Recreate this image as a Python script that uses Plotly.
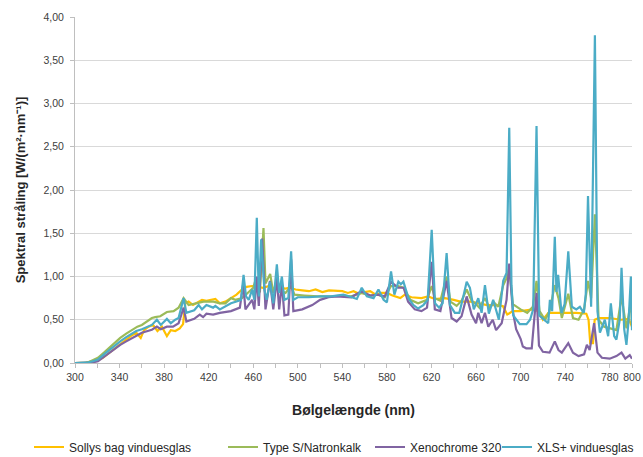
import plotly.graph_objects as go

# ---------------- data ----------------
wl_sollys = [300, 305, 310, 315, 320, 325, 330, 335, 340, 345, 350, 355, 359, 362, 366, 370, 374, 378,
             382.5, 386, 390, 394, 397, 399, 402, 406, 410, 414, 418, 422, 426, 430, 435, 440, 445, 450,
             454, 459, 465, 469, 474, 478, 483, 489, 493, 498, 504, 510, 516, 522, 528, 535, 540, 545,
             550, 555, 560, 565, 570, 575, 580, 585, 592, 596, 602, 611, 617, 623, 632, 640, 646, 655,
             663, 670, 677, 684, 688, 693, 700, 706, 711, 716, 720, 725, 732, 740, 750, 759, 761, 762.5,
             765, 766.5, 770, 780, 790, 797, 800]
val_sollys = [0, 0, 0.005, 0.02, 0.03, 0.06, 0.11, 0.17, 0.22, 0.27, 0.31, 0.35, 0.29, 0.38, 0.42, 0.44,
              0.37, 0.42, 0.31, 0.38, 0.37, 0.40, 0.45, 0.69, 0.71, 0.67, 0.70, 0.73, 0.72, 0.73, 0.74,
              0.69, 0.71, 0.75, 0.79, 0.85, 0.88, 0.89, 0.88, 0.87, 0.89, 0.85, 0.87, 0.86, 0.87, 0.85,
              0.84, 0.83, 0.85, 0.82, 0.84, 0.83, 0.83, 0.81, 0.83, 0.80, 0.82, 0.83, 0.79, 0.81, 0.81,
              0.78, 0.75, 0.79, 0.76, 0.75, 0.77, 0.74, 0.75, 0.73, 0.71, 0.71, 0.69, 0.67, 0.67, 0.66,
              0.56, 0.60, 0.60, 0.61, 0.62, 0.60, 0.50, 0.58, 0.58, 0.58, 0.58, 0.57, 0.50, 0.23, 0.23,
              0.50, 0.52, 0.52, 0.50, 0.51, 0.42]

wl_types = [300, 308, 312, 316, 320.6, 326, 331.7, 336, 340.6, 346, 351, 356, 360, 365, 369, 372, 376.5,
            382.5, 388.5, 393, 397.5, 402, 409.4, 415.4, 424.3, 430, 435, 440, 444, 450, 455, 460, 462,
            464, 466, 469.2, 471, 475.2, 478, 481, 484, 489, 494, 497, 506, 518, 530, 540, 548, 557, 565,
            572, 578, 583.7, 590, 595, 601, 608, 616, 620.2, 623, 628, 633.6, 637, 642.6, 647, 651.6,
            656, 660, 663, 668, 672, 676, 680, 684.4, 687.4, 689.8, 693, 700, 706, 711, 714.3, 717, 722,
            726, 730.7, 734, 737, 742.8, 747, 752, 757, 760.5, 763.3, 766.7, 770, 775, 780, 786, 790.6,
            795, 799, 800]
val_types = [0, 0, 0.01, 0.03, 0.06, 0.12, 0.19, 0.24, 0.29, 0.34, 0.385, 0.42, 0.44, 0.49, 0.52, 0.53,
             0.54, 0.59, 0.60, 0.64, 0.75, 0.67, 0.69, 0.71, 0.71, 0.69, 0.69, 0.75, 0.73, 0.75, 0.81,
             0.87, 0.96, 0.84, 0.82, 1.56, 0.92, 1.03, 0.81, 0.96, 0.84, 0.81, 0.89, 0.79, 0.78, 0.77,
             0.77, 0.78, 0.77, 0.81, 0.78, 0.79, 0.76, 0.89, 0.89, 0.87, 0.73, 0.69, 0.73, 0.89, 0.75,
             0.72, 1.00, 0.71, 0.66, 0.72, 0.85, 0.72, 0.68, 0.64, 0.75, 0.64, 0.70, 0.65, 0.90, 0.98,
             1.10, 0.68, 0.62, 0.58, 0.65, 0.95, 0.60, 0.50, 0.60, 0.90, 0.75, 0.52, 0.80, 0.52, 0.50,
             0.62, 0.95, 0.75, 1.72, 0.50, 0.42, 0.40, 0.38, 0.77, 0.40, 0.71, 0.46]

wl_xeno = [300, 310, 315, 320.6, 326, 331.7, 336, 340.6, 346, 351, 356, 360, 365, 369, 373.5, 377,
           382.5, 388, 393, 397.5, 400, 407, 412, 415, 418, 424, 430, 440, 448, 451, 453, 459, 461,
           463.2, 465, 468, 471, 475, 478, 481.2, 483.3, 485.7, 488, 491.5, 494, 496, 504, 513, 520,
           527.6, 535, 548, 557, 565, 572, 578, 583.7, 590, 595, 599, 605, 611, 616, 620.2, 623, 628,
           633.6, 638, 642.6, 647, 651.6, 656, 660, 662, 665, 668, 671, 675, 678, 683, 687.4, 689.8,
           693, 696, 700, 702, 705, 710, 714.3, 716.5, 720, 726, 730.7, 734, 737, 742.8, 747, 752, 757,
           759.5, 762, 766, 769, 773, 780, 786, 790.6, 794, 798, 800]
val_xeno = [0, 0, 0.005, 0.02, 0.07, 0.13, 0.17, 0.21, 0.25, 0.29, 0.32, 0.35, 0.37, 0.385, 0.42, 0.39,
            0.42, 0.42, 0.46, 0.64, 0.48, 0.51, 0.56, 0.53, 0.57, 0.56, 0.58, 0.60, 0.64, 0.92, 0.62,
            0.73, 0.62, 1.00, 0.66, 1.44, 0.62, 0.95, 0.62, 0.98, 0.62, 0.92, 0.55, 0.56, 1.20, 0.60,
            0.62, 0.67, 0.73, 0.76, 0.77, 0.76, 0.83, 0.78, 0.79, 0.77, 0.94, 0.87, 0.87, 0.71, 0.62,
            0.60, 0.64, 1.17, 0.62, 0.60, 0.95, 0.52, 0.48, 0.54, 0.77, 0.56, 0.46, 0.58, 0.46, 0.58,
            0.42, 0.50, 0.38, 0.46, 0.73, 1.15, 0.60, 0.39, 0.28, 0.19, 0.17, 0.17, 0.81, 0.20, 0.13,
            0.12, 0.25, 0.15, 0.12, 0.23, 0.12, 0.08, 0.10, 0.21, 0.15, 0.46, 0.12, 0.06, 0.05, 0.08,
            0.12, 0.05, 0.09, 0.05]

wl_xls = [300, 308, 312, 316, 320.6, 326, 331.7, 336, 340.6, 346, 351, 355, 360, 365, 369, 373.5, 377,
          382.5, 386, 390, 393, 397.5, 400, 407, 411, 414, 418, 424, 426, 430, 435, 440, 445, 449,
          451.3, 453.5, 456, 459, 461, 463.2, 465, 467.1, 470, 472, 475, 478, 481.2, 483.3, 485.7, 488,
          491.5, 494, 496, 500, 510, 520, 530, 541, 548.5, 553, 557.4, 562, 568, 572.4, 577, 580, 583.7,
          586.7, 590.3, 592.5, 594.8, 599.3, 603.8, 608, 612.7, 616.6, 620.2, 623.2, 626.8, 630, 633.6,
          636.6, 641, 645, 648.6, 651.6, 654.5, 658, 662, 665, 668, 671.5, 675.4, 680.5, 684.4, 687.4,
          689.8, 691.8, 693.4, 699.3, 705.3, 708.5, 711.3, 714.3, 716.7, 721.8, 724.8, 726.3, 728.3,
          730.7, 732.2, 733.7, 736.7, 739.5, 742.8, 746, 750, 753.2, 756.8, 758.5, 760.5, 763.3, 766.7,
          769, 771.2, 775.6, 778.6, 781, 784, 786, 789, 790.6, 793, 795, 797, 799, 800]
val_xls = [0, 0, 0.008, 0.02, 0.04, 0.10, 0.16, 0.21, 0.25, 0.30, 0.34, 0.37, 0.39, 0.42, 0.44, 0.50,
           0.44, 0.51, 0.46, 0.50, 0.52, 0.75, 0.58, 0.61, 0.67, 0.62, 0.67, 0.64, 0.66, 0.62, 0.66,
           0.69, 0.71, 0.73, 1.02, 0.77, 0.73, 0.85, 0.73, 1.68, 0.77, 1.43, 0.85, 0.73, 0.94, 0.69,
           1.14, 0.81, 1.00, 0.73, 0.75, 1.29, 0.73, 0.76, 0.76, 0.77, 0.77, 0.79, 0.76, 0.74, 0.87,
           0.77, 0.75, 0.85, 0.73, 0.70, 1.06, 0.79, 0.94, 0.91, 0.94, 0.75, 0.67, 0.63, 0.67, 0.73,
           1.54, 0.69, 0.64, 0.69, 1.27, 0.67, 0.58, 0.58, 0.77, 0.94, 0.87, 0.62, 0.75, 0.58, 0.90,
           0.57, 0.73, 0.50, 0.95, 1.04, 2.72, 0.90, 0.55, 0.45, 0.45, 0.50, 0.62, 2.74, 0.55, 0.50,
           0.46, 0.73, 0.60, 1.46, 0.82, 1.02, 0.58, 0.68, 1.29, 0.65, 0.62, 0.65, 0.58, 0.80, 1.93,
           0.65, 3.79, 0.60, 0.35, 0.50, 0.31, 0.69, 0.31, 0.27, 0.50, 1.10, 0.39, 0.21, 0.50, 1.00,
           0.38]

series_names = ["Sollys bag vinduesglas", "Type S/Natronkalk", "Xenochrome 320", "XLS+ vinduesglas"]
series_colors = ["#FFC000", "#9BBB59", "#8064A2", "#4BACC6"]

x_tickvals = [300, 340, 380, 420, 460, 500, 540, 580, 620, 660, 700, 740, 780, 800]
y_tickvals = [0, 0.5, 1.0, 1.5, 2.0, 2.5, 3.0, 3.5, 4.0]
y_ticktext = ["0,00", "0,50", "1,00", "1,50", "2,00", "2,50", "3,00", "3,50", "4,00"]

# ---------------- figure ----------------
W, H = 643, 457
legend_ids = ["legend", "legend2", "legend3", "legend4"]
legend_x_px = [29, 223, 370, 497]   # left edge of each legend entry, px

fig = go.Figure()
for wl, val, name, col, lg in [(wl_sollys, val_sollys, series_names[0], series_colors[0], legend_ids[0]),
                               (wl_types, val_types, series_names[1], series_colors[1], legend_ids[1]),
                               (wl_xeno, val_xeno, series_names[2], series_colors[2], legend_ids[2]),
                               (wl_xls, val_xls, series_names[3], series_colors[3], legend_ids[3])]:
    fig.add_trace(go.Scatter(x=wl, y=val, mode="lines", name=name, legend=lg,
                             line=dict(color=col, width=2.2)))

tick_font = dict(family="Liberation Sans Narrow, Arial Narrow, Liberation Sans, Arial, sans-serif",
                 size=10.5, color="#404040")

legend_common = dict(orientation="h", xref="container", yref="container",
                     y=1 - 447 / H, xanchor="left", yanchor="middle",
                     font=dict(size=12, color="#262626"), itemwidth=30,
                     bgcolor="rgba(0,0,0,0)")

fig.update_layout(
    width=W, height=H,
    margin=dict(l=75, r=11, t=17, b=94),
    paper_bgcolor="white", plot_bgcolor="white",
    font=dict(family="Liberation Sans, Arial, sans-serif", size=12, color="#262626"),
    showlegend=True,
)
for lg, xp in zip(legend_ids, legend_x_px):
    fig.update_layout({lg: dict(legend_common, x=xp / W)})

fig.update_xaxes(
    range=[300, 800], tickvals=x_tickvals, ticktext=[str(v) for v in x_tickvals],
    tickfont=tick_font, tickangle=0, ticklabeloverflow="allow",
    showgrid=False, zeroline=False, automargin=False,
    showline=True, linecolor="#BFBFBF", linewidth=1,
    ticks="outside", ticklen=4, tickcolor="#BFBFBF",
    minor=dict(dtick=20, tick0=300, ticks="outside", ticklen=4, tickcolor="#BFBFBF"),
    title=dict(text="<b>Bølgelængde (nm)</b>", font=dict(size=14, color="#262626"), standoff=23),
)
fig.update_yaxes(
    range=[0, 4], tickvals=y_tickvals, ticktext=y_ticktext, tickfont=tick_font,
    showgrid=True, gridcolor="#D9D9D9", gridwidth=1, zeroline=False, automargin=False,
    showline=True, linecolor="#BFBFBF", linewidth=1,
    ticks="outside", ticklen=4, tickcolor="#BFBFBF", ticklabelstandoff=4,
    title=dict(text="<b>Spektral stråling [W/(m²·nm⁻¹)]</b>", font=dict(size=13, color="#262626"),
               standoff=14),
)

# remove the browser's default 8px page margin so the figure fills the window exactly
fig.write_html("out.html", config={"displayModeBar": False},
               post_script="document.body.style.margin='0px';document.body.style.overflow='hidden';")
